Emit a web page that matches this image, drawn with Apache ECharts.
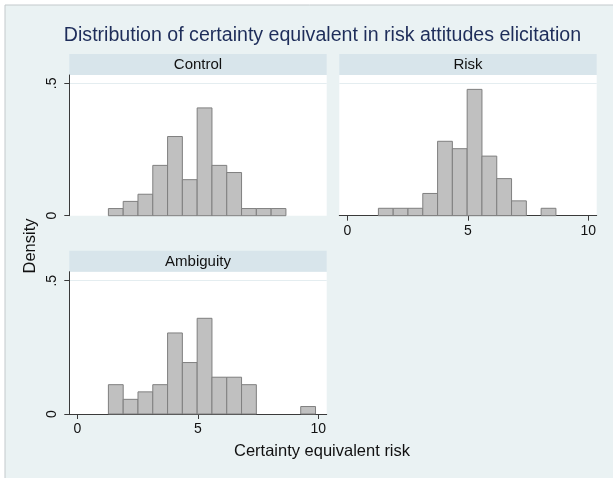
<!DOCTYPE html>
<html>
<head>
<meta charset="utf-8">
<script src="https://cdn.jsdelivr.net/npm/echarts@6/dist/echarts.min.js"></script>
<style>
html,body{margin:0;padding:0;background:#ffffff;}
#chart{width:613px;height:478px;}
</style>
</head>
<body>
<div id="chart"></div>
<script>
// ---- data ----
const chartTitle = 'Distribution of certainty equivalent in risk attitudes elicitation';
const panelNames = ['Control', 'Risk', 'Ambiguity'];
const xTitle = 'Certainty equivalent risk';
const yTitle = 'Density';
const binStart = 1.29;
const binWidth = 0.614;
const controlDensity = [0.027, 0.054, 0.081, 0.190, 0.299, 0.136, 0.407, 0.190, 0.163, 0.027, 0.027, 0.027];
const riskDensity = [0.028, 0.028, 0.028, 0.084, 0.281, 0.253, 0.477, 0.225, 0.140, 0.056, 0, 0.028];
const ambiguityDensity = [0.110, 0.055, 0.083, 0.110, 0.304, 0.193, 0.359, 0.138, 0.138, 0.110, 0, 0, 0, 0.028];
const xTicks = [0, 5, 10];
const yTicks = [0, 0.5];

// ---- styling / layout ----
const FONT = "'Liberation Sans', Arial, Helvetica, sans-serif";
const BG = '#eaf2f3';
const STRIP = '#d8e5eb';
const AXIS = '#3a3a3a';
const panels = [
  { name: panelNames[0], data: controlDensity, left: 69.3, top: 75, width: 257.4, height: 140.7, ymax: 0.5313, showX: false, showY: true },
  { name: panelNames[1], data: riskDensity, left: 339.3, top: 75, width: 257.4, height: 140.7, ymax: 0.5313, showX: true, showY: false },
  { name: panelNames[2], data: ambiguityDensity, left: 69.3, top: 271.7, width: 257.4, height: 142.3, ymax: 0.5338, showX: true, showY: true }
];
const stripH = 21;

function toBins(arr) {
  const out = [];
  arr.forEach((d, i) => {
    if (d > 0) out.push([binStart + i * binWidth, binStart + (i + 1) * binWidth, d]);
  });
  return out;
}
const fmtY = v => (v === 0 ? '0' : String(v).replace(/^0\./, '.'));

const grids = [], xAxes = [], yAxes = [], series = [], graphics = [];

graphics.push({
  type: 'rect', shape: { x: 5, y: 5, width: 640, height: 500 },
  style: { fill: BG, stroke: '#c3c9cc', lineWidth: 1 }, z: -10, silent: true
});

panels.forEach((p, i) => {
  grids.push({ left: p.left, top: p.top, width: p.width, height: p.height, show: true, backgroundColor: '#ffffff', borderWidth: 0, containLabel: false });
  xAxes.push({
    gridIndex: i, type: 'value', min: -0.333, max: 10.35, show: p.showX,
    axisLine: { show: true, onZero: false, lineStyle: { color: AXIS, width: 1 } },
    axisTick: { show: true, length: 5, customValues: xTicks, lineStyle: { color: AXIS } },
    axisLabel: { customValues: xTicks, margin: 8, color: '#111', fontSize: 14, fontFamily: FONT,
      formatter: v => (xTicks.indexOf(v) >= 0 ? String(v) : '') },
    splitLine: { show: false }
  });
  yAxes.push({
    gridIndex: i, type: 'value', min: 0, max: p.ymax, show: p.showY,
    axisLine: { show: true, onZero: false, lineStyle: { color: AXIS, width: 1 } },
    axisTick: { show: true, length: 5, customValues: yTicks, lineStyle: { color: AXIS } },
    axisLabel: { customValues: yTicks, rotate: 90, margin: 10, color: '#111', fontSize: 14, fontFamily: FONT,
      formatter: v => (yTicks.indexOf(v) >= 0 ? fmtY(v) : '') },
    splitLine: { show: false }
  });
  series.push({
    type: 'custom', xAxisIndex: i, yAxisIndex: i,
    data: toBins(p.data),
    encode: { x: [0, 1], y: 2 },
    renderItem: function (params, api) {
      const a = api.coord([api.value(0), api.value(2)]);
      const b = api.coord([api.value(1), 0]);
      return {
        type: 'rect',
        shape: { x: a[0], y: a[1], width: b[0] - a[0], height: b[1] - a[1] },
        style: { fill: '#c0c0c0', stroke: '#7f7f7f', lineWidth: 1 }
      };
    },
    markLine: {
      silent: true, symbol: 'none', label: { show: false },
      lineStyle: { color: '#e4edf0', width: 1, type: 'solid' },
      data: [{ yAxis: yTicks[1] }], z: 0
    },
    z: 2
  });
  graphics.push({
    type: 'rect', shape: { x: p.left, y: p.top - stripH, width: p.width, height: stripH },
    style: { fill: STRIP }, silent: true
  });
  graphics.push({
    type: 'text', x: p.left + p.width / 2, y: p.top - stripH / 2 + 0.5,
    style: { text: p.name, textAlign: 'center', textVerticalAlign: 'middle', font: '15px ' + FONT, fill: '#111' },
    silent: true
  });
});

graphics.push({
  type: 'text', x: 322.5, y: 35.5,
  style: { text: chartTitle, textAlign: 'center', textVerticalAlign: 'middle', font: '19.6px ' + FONT, fill: '#1e2d5a' },
  silent: true
});
graphics.push({
  type: 'text', x: 322, y: 451,
  style: { text: xTitle, textAlign: 'center', textVerticalAlign: 'middle', font: '16.5px ' + FONT, fill: '#111' },
  silent: true
});
graphics.push({
  type: 'text', x: 30, y: 246, rotation: Math.PI / 2,
  style: { text: yTitle, textAlign: 'center', textVerticalAlign: 'middle', font: '16.5px ' + FONT, fill: '#111' },
  silent: true
});

const chart = echarts.init(document.getElementById('chart'), null, { renderer: 'canvas' });
chart.setOption({
  animation: false,
  backgroundColor: '#ffffff',
  graphic: graphics,
  grid: grids,
  xAxis: xAxes,
  yAxis: yAxes,
  series: series
});
</script>
</body>
</html>
